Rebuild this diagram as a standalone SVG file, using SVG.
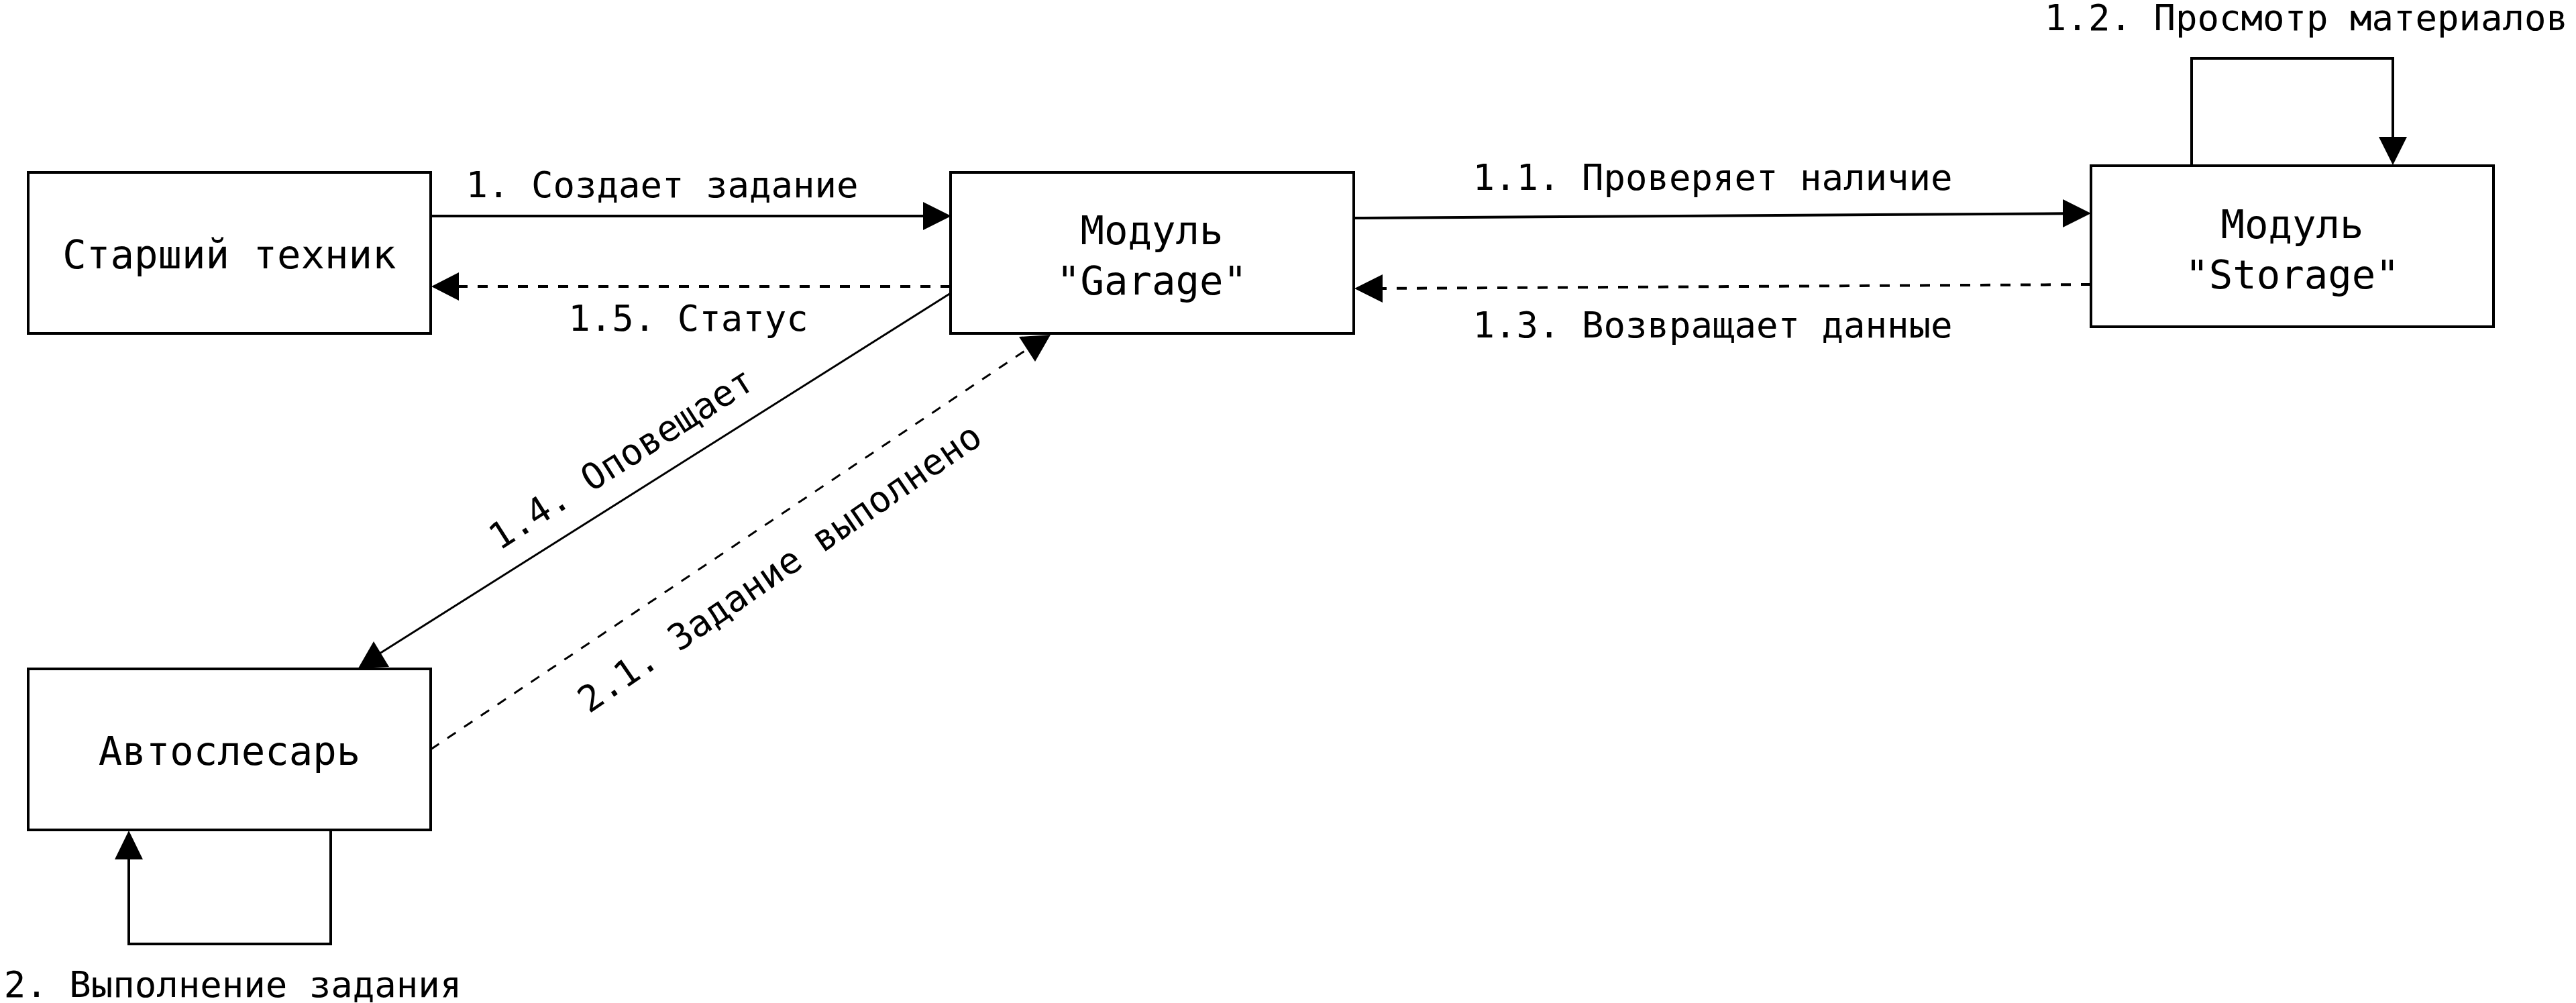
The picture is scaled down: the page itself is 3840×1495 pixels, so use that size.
<svg xmlns="http://www.w3.org/2000/svg" width="3840" height="1495" viewBox="0 0 3840 1495">
<style>
  .box { fill: #ffffff; stroke: #000000; stroke-width: 4; }
  .lbl { font-family: "DejaVu Sans Mono", "Liberation Mono", monospace; font-size: 59px; fill: #000000; text-anchor: middle; }
  .elbl { font-family: "DejaVu Sans Mono", "Liberation Mono", monospace; font-size: 54px; fill: #000000; text-anchor: middle; }
  .ln { fill: none; stroke: #000000; stroke-width: 4; }
  .thin { stroke-width: 3; }
  .dash { stroke-dasharray: 15 15; }
  .head { fill: #000000; stroke: none; }
</style>
<rect width="3840" height="1495" fill="#ffffff"/>

<g id="connectors">
  <!-- 1. Создает задание -->
  <g id="e1">
    <line class="ln" x1="642" y1="322" x2="1378" y2="322"/>
    <polygon class="head" points="1376,301 1418,322 1376,343"/>
    <text class="elbl" x="987" y="294">1. Создает задание</text>
  </g>
  <!-- 1.5. Статус -->
  <g id="e15">
    <line class="ln dash" x1="1417" y1="427" x2="682" y2="427"/>
    <polygon class="head" points="684,406 643,427 684,448"/>
    <text class="elbl" x="1026" y="493">1.5. Статус</text>
  </g>
  <!-- 1.1. Проверяет наличие -->
  <g id="e11">
    <line class="ln" x1="2018" y1="325" x2="3078" y2="318.3"/>
    <polygon class="head" points="3075,297 3117,318 3075,339"/>
    <text class="elbl" x="2553" y="283">1.1. Проверяет наличие</text>
  </g>
  <!-- 1.3. Возвращает данные -->
  <g id="e13">
    <line class="ln dash" x1="3117" y1="424" x2="2059" y2="430"/>
    <polygon class="head" points="2061,409 2019,430 2061,451"/>
    <text class="elbl" x="2553" y="503">1.3. Возвращает данные</text>
  </g>
  <!-- 1.2. Просмотр материалов (self loop) -->
  <g id="e12">
    <path class="ln" d="M3267,247 V87 H3567 V206"/>
    <polygon class="head" points="3546,204 3588,204 3567,246"/>
    <text class="elbl" x="3438" y="45">1.2. Просмотр материалов</text>
  </g>
  <!-- 1.4. Оповещает -->
  <g id="e14">
    <line class="ln thin" x1="1417" y1="437" x2="566" y2="974"/>
    <polygon class="head" points="557,956 580,994 534,996"/>
    <text class="elbl" transform="translate(926,683) rotate(-32.5)" x="0" y="19">1.4. Оповещает</text>
  </g>
  <!-- 2.1. Задание выполнено -->
  <g id="e21">
    <line class="ln thin dash" x1="642" y1="1117" x2="1532" y2="520"/>
    <polygon class="head" points="1519,502 1566,499 1543,539"/>
    <text class="elbl" transform="translate(1162,846) rotate(-34.5)" x="0" y="19">2.1. Задание выполнено</text>
  </g>
  <!-- 2. Выполнение задания (self loop) -->
  <g id="e2">
    <path class="ln" d="M493,1237 V1407 H192 V1279"/>
    <polygon class="head" points="171,1281 213,1281 192,1238"/>
    <text class="elbl" x="347" y="1486">2. Выполнение задания</text>
  </g>
</g>

<g id="node-senior">
  <rect class="box" x="42" y="257" width="600" height="240"/>
  <text class="lbl" x="342" y="400">Старший техник</text>
</g>
<g id="node-garage">
  <rect class="box" x="1417" y="257" width="601" height="240"/>
  <text class="lbl" x="1717" y="364">Модуль</text>
  <text class="lbl" x="1717" y="439">"Garage"</text>
</g>
<g id="node-storage">
  <rect class="box" x="3117" y="247" width="600" height="240"/>
  <text class="lbl" x="3417" y="355">Модуль</text>
  <text class="lbl" x="3417" y="430">"Storage"</text>
</g>
<g id="node-mechanic">
  <rect class="box" x="42" y="997" width="600" height="240"/>
  <text class="lbl" x="342" y="1140">Автослесарь</text>
</g>
</svg>
